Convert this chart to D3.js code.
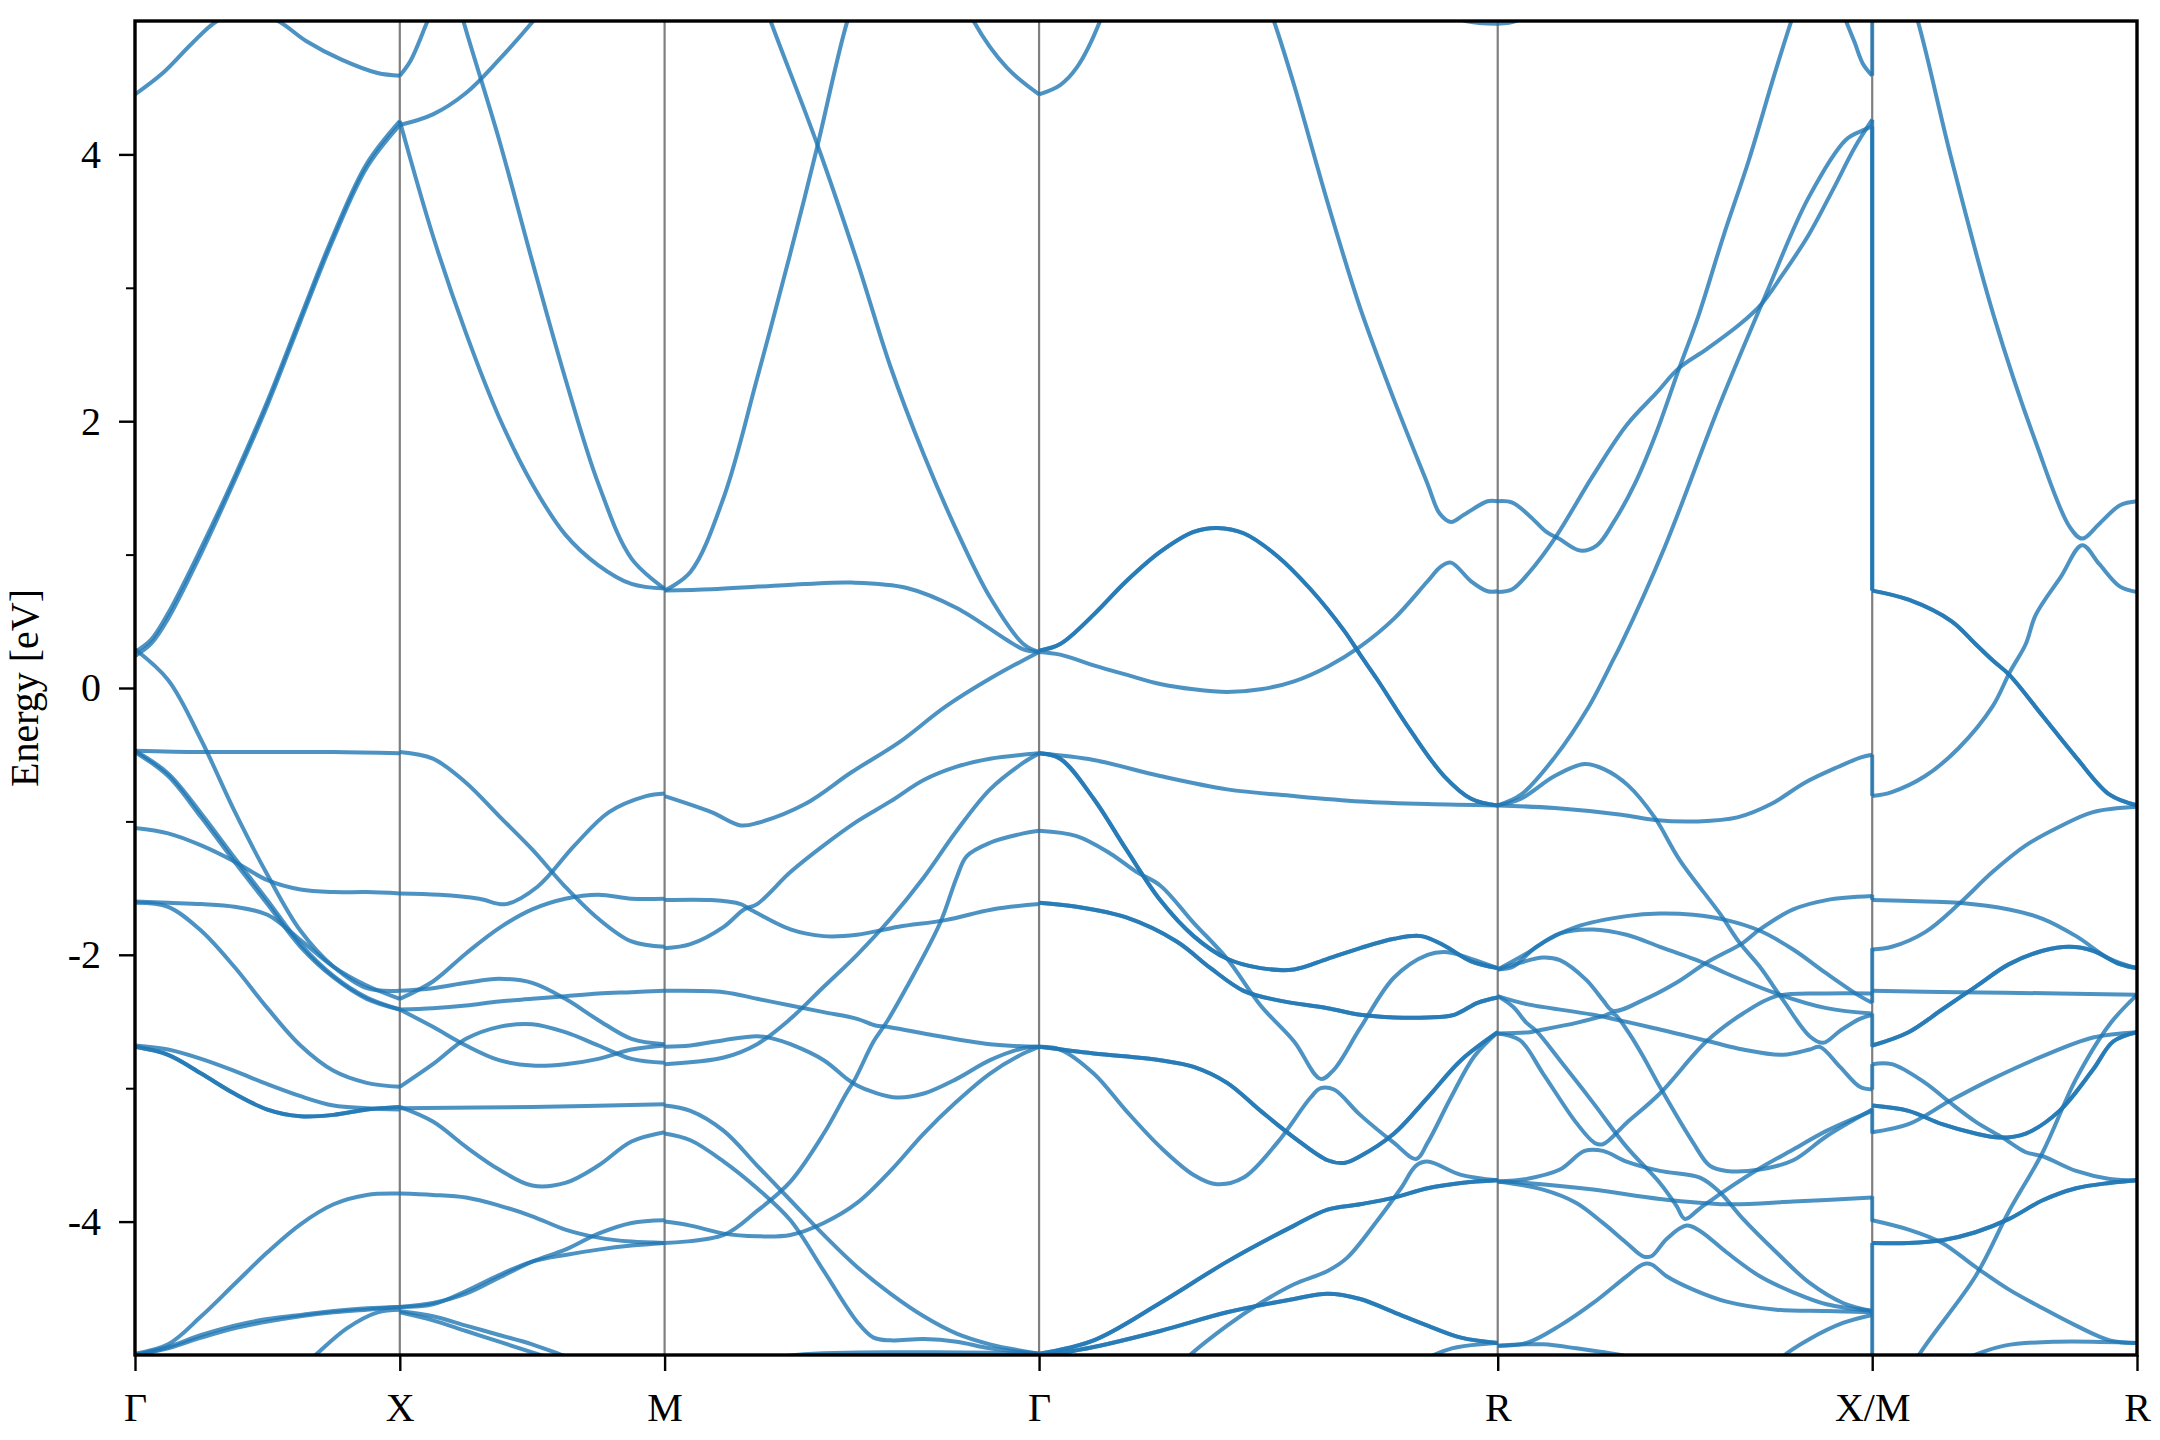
<!DOCTYPE html>
<html><head><meta charset="utf-8">
<script src="https://cdn.jsdelivr.net/npm/d3@7"></script>
<style>body{margin:0;background:#fff}</style>
</head><body>
<svg id="chart" width="2160" height="1440"></svg>
<script>
// ---- path / ticks ----
const kLabels = ["Γ","X","M","Γ","R","X/M","R"];
const segLengths = [1, 1, Math.SQRT2, Math.sqrt(3), Math.SQRT2, 1];
const yMajorTicks = [-4,-2,0,2,4];
const yMinorTicks = [-3,-1,1,3];

// ---- bands per segment: [fraction along segment, energy eV] ----
const gx9 = [[0,-2.69],[.125,-2.75],[.25,-2.89],[.375,-3.04],[.5,-3.16],[.625,-3.21],[.75,-3.20],[.875,-3.16],[1,-3.14]];
const bandsGX = [
  [[0,-0.47],[.25,-0.48],[.5,-0.48],[.75,-0.48],[1,-0.49]],
  [[0,0.29],[.125,0.06],[.25,-0.39],[.375,-0.92],[.5,-1.40],[.625,-1.82],[.75,-2.09],[.875,-2.25],[1,-2.27]],
  [[0,-0.47],[.125,-0.64],[.25,-0.94],[.375,-1.27],[.5,-1.59],[.625,-1.92],[.75,-2.16],[.875,-2.32],[1,-2.41]],
  [[0,-0.48],[.125,-0.66],[.25,-0.97],[.375,-1.30],[.5,-1.62],[.625,-1.94],[.75,-2.17],[.875,-2.33],[1,-2.41]],
  [[0,-1.60],[.125,-1.61],[.25,-1.62],[.375,-1.64],[.5,-1.70],[.625,-1.89],[.75,-2.09],[.875,-2.23],[1,-2.33]],
  [[0,-1.05],[.125,-1.09],[.25,-1.18],[.375,-1.30],[.5,-1.44],[.625,-1.51],[.75,-1.53],[.875,-1.53],[1,-1.54]],
  [[0,-1.61],[.125,-1.64],[.25,-1.82],[.375,-2.09],[.5,-2.40],[.625,-2.68],[.75,-2.87],[.875,-2.96],[1,-2.99]],
  [[0,-2.68],[.125,-2.71],[.25,-2.78],[.375,-2.87],[.5,-2.97],[.625,-3.06],[.75,-3.13],[.875,-3.15],[1,-3.16]],
  gx9, gx9,
  [[0,-4.99],[.125,-4.92],[.25,-4.71],[.375,-4.47],[.5,-4.23],[.625,-4.02],[.75,-3.87],[.875,-3.80],[1,-3.79]],
  [[0,-5.0],[.125,-4.94],[.25,-4.85],[.375,-4.78],[.5,-4.73],[.625,-4.70],[.75,-4.67],[.875,-4.65],[1,-4.64]],
  [[0,-5.0],[.125,-4.95],[.25,-4.87],[.375,-4.80],[.5,-4.75],[.625,-4.71],[.75,-4.68],[.875,-4.66],[1,-4.64]],
  [[.45,-5.4],[.67,-5.02],[.8,-4.80],[.916,-4.68],[1,-4.66]],
  [[0,0.27],[.06,0.36],[.125,0.56],[.25,1.05],[.375,1.58],[.5,2.15],[.625,2.78],[.75,3.40],[.875,3.93],[1,4.25]],
  [[0,0.24],[.06,0.33],[.125,0.52],[.25,1.01],[.375,1.55],[.5,2.12],[.625,2.75],[.75,3.37],[.875,3.90],[1,4.22]],
  [[0,4.45],[.105,4.61],[.214,4.83],[.31,5.0],[.42,5.08],[.54,5.0],[.646,4.85],[.78,4.71],[.916,4.61],[1,4.59]]
];
const bandsXM = [
  [[0,4.25],[.125,3.39],[.25,2.66],[.375,2.03],[.5,1.53],[.625,1.15],[.75,0.92],[.875,0.78],[1,0.745]],
  [[0,4.22],[.125,4.30],[.25,4.46],[.375,4.71],[.5,4.99],[.625,5.3]],
  [[.2,5.3],[.24,5.0],[.375,4.11],[.5,3.20],[.625,2.32],[.75,1.53],[.875,0.97],[1,0.745]],
  [[0,4.59],[.04,4.7],[.105,5.0],[.15,5.2]],
  [[0,-0.48],[.125,-0.53],[.25,-0.71],[.375,-0.96],[.5,-1.21],[.625,-1.49],[.75,-1.73],[.875,-1.90],[1,-1.94]],
  [[0,-1.54],[.15,-1.55],[.3,-1.58],[.4,-1.62],[.52,-1.49],[.66,-1.18],[.79,-0.93],[.93,-0.81],[1,-0.79]],
  [[0,-2.27],[.125,-2.25],[.25,-2.21],[.375,-2.18],[.5,-2.21],[.625,-2.33],[.75,-2.49],[.875,-2.63],[1,-2.67]],
  [[0,-2.33],[.125,-2.20],[.25,-1.99],[.375,-1.80],[.5,-1.66],[.625,-1.58],[.75,-1.55],[.875,-1.58],[1,-1.58]],
  [[0,-2.41],[.125,-2.40],[.25,-2.38],[.375,-2.35],[.5,-2.33],[.625,-2.31],[.75,-2.29],[.875,-2.28],[1,-2.27]],
  [[0,-2.41],[.125,-2.54],[.25,-2.68],[.375,-2.79],[.5,-2.83],[.625,-2.82],[.75,-2.78],[.875,-2.71],[1,-2.68]],
  [[0,-2.99],[.125,-2.82],[.25,-2.63],[.375,-2.54],[.5,-2.52],[.625,-2.58],[.75,-2.68],[.875,-2.78],[1,-2.81]],
  [[0,-3.15],[.5,-3.14],[1,-3.12]],
  [[0,-3.14],[.125,-3.25],[.25,-3.44],[.375,-3.61],[.5,-3.73],[.625,-3.71],[.75,-3.58],[.875,-3.40],[1,-3.33]],
  [[0,-3.79],[.125,-3.80],[.25,-3.82],[.375,-3.88],[.5,-3.96],[.625,-4.06],[.75,-4.12],[.875,-4.15],[1,-4.16]],
  [[0,-4.64],[.125,-4.61],[.25,-4.54],[.375,-4.42],[.5,-4.30],[.625,-4.21],[.75,-4.09],[.875,-4.01],[1,-3.99]],
  [[0,-4.64],[.125,-4.62],[.25,-4.52],[.375,-4.40],[.5,-4.30],[.625,-4.25],[.75,-4.21],[.875,-4.18],[1,-4.16]],
  [[0,-4.67],[.125,-4.71],[.25,-4.78],[.375,-4.85],[.5,-4.92],[.625,-5.01],[.75,-5.1],[1,-5.2]],
  [[0,-4.68],[.125,-4.74],[.25,-4.82],[.375,-4.90],[.5,-4.98],[.625,-5.06],[1,-5.3]]
];
const bandsMG = [
  [[0,-0.81],[.125,-0.93],[.203,-1.03],[.25,-1.01],[.375,-0.87],[.5,-0.63],[.625,-0.41],[.75,-0.14],[.875,0.08],[1,0.27]],
  [[0,0.73],[.125,0.74],[.25,0.76],[.375,0.78],[.5,0.79],[.647,0.75],[.78,0.60],[.914,0.36],[.958,0.29],[1,0.27]],
  [[0,0.73],[.069,0.87],[.158,1.43],[.247,2.32],[.336,3.26],[.407,4.05],[.487,4.99],[.55,5.5]],
  [[.22,5.5],[.283,5.0],[.407,4.08],[.514,3.2],[.603,2.41],[.692,1.75],[.78,1.18],[.869,0.68],[.958,0.33],[1,0.27]],
  [[.78,5.3],[.825,5.0],[.914,4.65],[1,4.45]],
  [[0,-1.59],[.125,-1.59],[.203,-1.62],[.229,-1.66],[.336,-1.81],[.425,-1.86],[.514,-1.85],[.625,-1.79],[.75,-1.74],[.875,-1.66],[1,-1.62]],
  [[0,-1.95],[.069,-1.92],[.158,-1.79],[.212,-1.66],[.247,-1.62],[.336,-1.38],[.425,-1.18],[.514,-1.00],[.603,-0.85],[.692,-0.69],[.78,-0.59],[.869,-0.53],[1,-0.49]],
  [[0,-2.27],[.158,-2.28],[.247,-2.33],[.336,-2.38],[.425,-2.43],[.514,-2.48],[.563,-2.53],[.594,-2.54],[.692,-2.59],[.869,-2.67],[1,-2.69]],
  [[0,-2.69],[.069,-2.68],[.158,-2.64],[.247,-2.61],[.292,-2.63],[.336,-2.67],[.425,-2.79],[.487,-2.93],[.514,-2.98],[.558,-3.03],[.62,-3.07],[.692,-3.04],[.78,-2.93],[.869,-2.79],[.958,-2.70],[1,-2.69]],
  [[0,-2.82],[.158,-2.77],[.247,-2.67],[.336,-2.48],[.425,-2.24],[.514,-2.00],[.603,-1.73],[.692,-1.42],[.78,-1.07],[.869,-0.76],[.958,-0.56],[1,-0.49]],
  [[0,-4.16],[.158,-4.10],[.247,-3.92],[.336,-3.70],[.425,-3.34],[.487,-3.03],[.509,-2.93],[.558,-2.65],[.594,-2.50],[.647,-2.24],[.736,-1.76],[.78,-1.42],[.807,-1.26],[.869,-1.16],[.958,-1.09],[1,-1.07]],
  [[0,-4.0],[.069,-4.03],[.158,-4.09],[.247,-4.11],[.336,-4.10],[.425,-4.01],[.514,-3.86],[.603,-3.62],[.692,-3.34],[.78,-3.10],[.869,-2.89],[.958,-2.74],[1,-2.69]],
  [[0,-3.13],[.069,-3.17],[.158,-3.32],[.247,-3.58],[.336,-3.84],[.425,-4.10],[.514,-4.34],[.603,-4.54],[.692,-4.71],[.78,-4.84],[.869,-4.92],[1,-4.99]],
  [[0,-3.34],[.069,-3.39],[.158,-3.55],[.247,-3.75],[.336,-3.99],[.425,-4.37],[.514,-4.75],[.558,-4.87],[.603,-4.89],[.692,-4.88],[.78,-4.90],[.869,-4.95],[1,-4.99]],
  [[0,-5.15],[.35,-5.0],[.7,-4.98],[1,-4.99]]
];
const gr2 = [[0,0.28],[.046,0.33],[.119,0.55],[.19,0.80],[.264,1.02],[.337,1.17],[.388,1.20],[.446,1.16],[.519,0.99],[.592,0.74],[.665,0.43],[.70,0.25],[.738,0.06],[.81,-0.32],[.883,-0.66],[.942,-0.83],[1,-0.88]];
const gr5 = [[0,-0.49],[.046,-0.53],[.119,-0.83],[.19,-1.21],[.264,-1.59],[.337,-1.86],[.41,-2.03],[.483,-2.10],[.556,-2.11],[.629,-2.03],[.70,-1.95],[.774,-1.88],[.833,-1.86],[.883,-1.93],[.942,-2.05],[1,-2.10]];
const gr7 = [[0,-1.61],[.082,-1.64],[.19,-1.72],[.30,-1.90],[.374,-2.10],[.446,-2.27],[.519,-2.34],[.629,-2.40],[.70,-2.45],[.774,-2.47],[.847,-2.47],[.905,-2.45],[.956,-2.36],[1,-2.32]];
const gr8 = [[0,-2.69],[.119,-2.74],[.264,-2.79],[.337,-2.84],[.41,-2.96],[.483,-3.17],[.556,-3.37],[.629,-3.54],[.665,-3.56],[.70,-3.51],[.774,-3.34],[.847,-3.07],[.92,-2.79],[1,-2.58]];
const gr11 = [[0,-4.99],[.119,-4.89],[.264,-4.61],[.41,-4.30],[.556,-4.03],[.629,-3.91],[.70,-3.87],[.774,-3.82],[.847,-3.75],[.92,-3.71],[1,-3.69]];
const gr12 = [[0,-5.01],[.119,-4.94],[.264,-4.82],[.41,-4.68],[.556,-4.58],[.629,-4.54],[.70,-4.58],[.774,-4.68],[.847,-4.78],[.92,-4.87],[1,-4.91]];
const bandsGR = [
  [[0,0.27],[.046,0.25],[.119,0.17],[.19,0.10],[.264,0.03],[.337,-0.01],[.41,-0.03],[.483,-0.01],[.556,0.05],[.629,0.16],[.70,0.31],[.774,0.52],[.847,0.80],[.876,0.91],[.898,0.94],[.942,0.80],[.978,0.725],[1,0.725]],
  gr2, gr2,
  [[0,4.45],[.046,4.52],[.082,4.65],[.133,5.0],[.16,5.3]],
  [[.48,5.3],[.512,5.0],[.556,4.52],[.629,3.64],[.70,2.85],[.774,2.16],[.847,1.53],[.873,1.31],[.898,1.245],[.927,1.30],[.978,1.40],[1,1.40]],
  [[.85,5.1],[.93,5.0],[1,4.98]],
  [[0,-0.49],[.119,-0.54],[.264,-0.66],[.41,-0.76],[.556,-0.81],[.70,-0.85],[.847,-0.87],[1,-0.88]],
  gr5, gr5,
  [[0,-1.07],[.082,-1.11],[.155,-1.24],[.213,-1.38],[.264,-1.48],[.337,-1.76],[.41,-2.03],[.483,-2.38],[.556,-2.65],[.614,-2.93],[.643,-2.86],[.70,-2.55],[.774,-2.17],[.847,-2.00],[.891,-1.98],[.942,-2.03],[1,-2.10]],
  gr7, gr7, gr8, gr8,
  [[0,-2.69],[.046,-2.71],[.119,-2.89],[.19,-3.17],[.264,-3.44],[.337,-3.65],[.388,-3.72],[.446,-3.67],[.519,-3.41],[.592,-3.07],[.614,-3.00],[.643,-3.01],[.70,-3.20],[.774,-3.41],[.822,-3.53],[.847,-3.41],[.898,-3.07],[.949,-2.76],[1,-2.58]],
  [[.25,-5.3],[.323,-5.02],[.41,-4.78],[.483,-4.61],[.556,-4.47],[.629,-4.37],[.672,-4.27],[.738,-3.99],[.789,-3.75],[.822,-3.58],[.847,-3.55],[.92,-3.65],[1,-3.69]],
  gr11, gr11, gr12, gr12,
  [[.8,-5.1],[.9,-4.95],[1,-4.91]]
];
const bandsRX = [
  [[0,1.40],[.039,1.39],[.085,1.29],[.13,1.17],[.163,1.12],[.22,1.03],[.265,1.07],[.31,1.245],[.366,1.53],[.423,1.91],[.485,2.40],[.536,2.79],[.603,3.39],[.671,3.96],[.738,4.59],[.784,5.0],[.82,5.3]],
  [[0,0.72],[.039,0.74],[.085,0.87],[.152,1.12],[.254,1.59],[.344,1.97],[.423,2.21],[.485,2.40],[.558,2.54],[.648,2.73],[.705,2.88],[.761,3.10],[.829,3.39],[.896,3.74],[.953,4.05],[1,4.26]],
  [[0,-0.88],[.062,-0.80],[.152,-0.52],[.241,-0.15],[.31,0.22],[.33,0.33],[.445,1.05],[.592,2.12],[.716,2.95],[.829,3.67],[.93,4.11],[.975,4.18],[1,4.21]],
  [[.93,5.0],[.953,4.84],[.975,4.68],[1,4.59]],
  [[0,4.98],[.05,5.0],[.1,5.1]],
  [[0,-0.88],[.152,-0.90],[.33,-0.95],[.42,-0.99],[.535,-1.00],[.64,-0.97],[.73,-0.87],[.82,-0.71],[.91,-0.59],[.97,-0.52],[1,-0.50]],
  [[0,-0.88],[.062,-0.83],[.152,-0.66],[.232,-0.57],[.285,-0.61],[.348,-0.73],[.419,-0.97],[.486,-1.29],[.593,-1.69],[.646,-1.91],[.70,-2.09],[.762,-2.34],[.833,-2.61],[.869,-2.66],[.914,-2.57],[.967,-2.48],[1,-2.45]],
  [[0,-2.11],[.041,-2.09],[.103,-1.94],[.21,-1.79],[.344,-1.71],[.433,-1.69],[.522,-1.70],[.611,-1.74],[.70,-1.82],[.789,-1.96],[.878,-2.14],[.967,-2.31],[1,-2.36]],
  [[0,-2.11],[.077,-1.99],[.166,-1.84],[.255,-1.81],[.344,-1.85],[.433,-1.94],[.549,-2.06],[.611,-2.14],[.744,-2.29],[.878,-2.40],[1,-2.44]],
  [[0,-2.11],[.059,-2.06],[.121,-2.02],[.166,-2.04],[.237,-2.19],[.281,-2.34],[.308,-2.42],[.388,-2.34],[.477,-2.21],[.557,-2.06],[.655,-1.91],[.70,-1.81],[.789,-1.66],[.878,-1.59],[1,-1.56]],
  [[0,-2.59],[.085,-2.58],[.103,-2.57],[.21,-2.51],[.281,-2.46],[.308,-2.44],[.344,-2.56],[.388,-2.76],[.433,-2.99],[.522,-3.41],[.566,-3.58],[.611,-3.62],[.70,-3.61],[.789,-3.54],[.878,-3.36],[1,-3.16]],
  [[0,-2.31],[.077,-2.37],[.255,-2.45],[.433,-2.56],[.566,-2.65],[.655,-2.71],[.762,-2.75],[.833,-2.71],[.86,-2.69],[.914,-2.84],[.967,-2.99],[1,-3.01]],
  [[0,-2.31],[.041,-2.39],[.077,-2.51],[.103,-2.57],[.166,-2.79],[.255,-3.11],[.344,-3.44],[.433,-3.71],[.477,-3.88],[.50,-3.98],[.54,-3.90],[.611,-3.76],[.70,-3.60],[.789,-3.46],[.878,-3.32],[1,-3.17]],
  [[0,-2.59],[.059,-2.64],[.121,-2.89],[.21,-3.26],[.259,-3.41],[.281,-3.42],[.344,-3.26],[.433,-3.04],[.557,-2.65],[.655,-2.44],[.744,-2.31],[.878,-2.29],[1,-2.29]],
  [[0,-3.70],[.077,-3.68],[.166,-3.61],[.232,-3.47],[.281,-3.47],[.344,-3.55],[.433,-3.62],[.54,-3.67],[.593,-3.78],[.655,-3.98],[.744,-4.23],[.833,-4.46],[.922,-4.61],[1,-4.67]],
  [[0,-3.70],[.077,-3.71],[.255,-3.76],[.433,-3.83],[.611,-3.87],[.789,-3.85],[1,-3.82]],
  [[0,-3.70],[.121,-3.76],[.21,-3.86],[.281,-4.01],[.344,-4.16],[.388,-4.26],[.41,-4.26],[.451,-4.13],[.504,-4.03],[.54,-4.07],[.611,-4.23],[.70,-4.41],[.789,-4.53],[.878,-4.62],[1,-4.67]],
  [[0,-4.93],[.077,-4.91],[.166,-4.78],[.255,-4.61],[.344,-4.41],[.388,-4.32],[.41,-4.32],[.451,-4.41],[.522,-4.51],[.611,-4.60],[.744,-4.66],[.878,-4.67],[1,-4.68]],
  [[0,-4.93],[.121,-4.92],[.21,-4.95],[.344,-5.01],[.45,-5.1]],
  [[.70,-5.2],[.762,-5.01],[.833,-4.88],[.922,-4.76],[1,-4.70]]
];
const mr2 = [[0,0.73],[.14,0.66],[.30,0.50],[.39,0.33],[.459,0.2],[.517,0.10],[.644,-0.21],[.77,-0.52],[.897,-0.80],[1,-0.88]];
const mr7 = [[0,-2.68],[.137,-2.58],[.264,-2.41],[.39,-2.24],[.517,-2.07],[.644,-1.97],[.745,-1.94],[.834,-1.97],[.935,-2.07],[1,-2.10]];
const mr9 = [[0,-3.13],[.137,-3.17],[.264,-3.27],[.39,-3.34],[.479,-3.37],[.58,-3.34],[.707,-3.17],[.834,-2.86],[.91,-2.65],[1,-2.58]];
const mr12 = [[0,-4.16],[.137,-4.16],[.264,-4.14],[.39,-4.08],[.517,-3.98],[.644,-3.84],[.77,-3.75],[.897,-3.71],[1,-3.69]];
const bandsMR = [
  [[0,-0.81],[.074,-0.78],[.2,-0.66],[.327,-0.45],[.454,-0.14],[.52,0.12],[.58,0.33],[.618,0.55],[.713,0.835],[.793,1.07],[.857,0.93],[.936,0.76],[1,0.72]],
  mr2, mr2,
  [[.12,5.3],[.172,5.0],[.30,3.96],[.459,2.79],[.618,1.84],[.745,1.21],[.793,1.12],[.857,1.23],[.936,1.37],[1,1.40]],
  [[0,-1.59],[.2,-1.60],[.327,-1.61],[.517,-1.66],[.644,-1.73],[.77,-1.86],[.897,-2.03],[1,-2.10]],
  [[0,-1.96],[.074,-1.94],[.2,-1.83],[.327,-1.62],[.454,-1.38],[.58,-1.18],[.707,-1.04],[.834,-0.93],[1,-0.89]],
  [[0,-2.27],[.327,-2.28],[.707,-2.29],[1,-2.30]],
  mr7, mr7,
  [[0,-2.82],[.074,-2.82],[.2,-2.96],[.289,-3.10],[.39,-3.25],[.492,-3.37],[.58,-3.48],[.644,-3.51],[.77,-3.62],[.897,-3.68],[1,-3.69]],
  mr9, mr9,
  [[0,-3.33],[.137,-3.27],[.289,-3.10],[.454,-2.93],[.644,-2.76],[.834,-2.62],[1,-2.58]],
  [[0,-3.99],[.137,-4.06],[.264,-4.16],[.39,-4.34],[.517,-4.51],[.644,-4.65],[.77,-4.78],[.897,-4.89],[1,-4.91]],
  mr12, mr12,
  [[.1,-5.3],[.17,-5.02],[.39,-4.41],[.517,-3.92],[.644,-3.48],[.77,-2.93],[.897,-2.52],[1,-2.30]],
  [[.36,-5.02],[.5,-4.93],[.7,-4.90],[1,-4.91]]
];
// vertical joins drawn at the X|M discontinuity: [energy at X, energy at M]
const jumpsXM = [[4.59,5.2],[4.26,0.73],[4.21,0.73],[-0.50,-0.81],[-1.55,-1.59],[-1.95,-2.36],[-2.44,-2.69],[-2.82,-3.01],[-3.15,-3.34],[-3.81,-4.0],[-4.16,-5.2]];

// ---- drawing ----
const segments = [bandsGX, bandsXM, bandsMG, bandsGR, bandsRX, bandsMR];
const kStart = [0];
segLengths.forEach((l, i) => kStart.push(kStart[i] + l));

const L = 135, R = 2137, T = 21, B = 1355;
const x = d3.scaleLinear().domain([0, kStart[kStart.length - 1]]).range([L, R]);
const y = d3.scaleLinear().domain([-5, 5]).range([B, T]);
const svg = d3.select("#chart");
const font = "'Liberation Serif','Times New Roman',serif";
const fs = 40;

svg.append("defs").append("clipPath").attr("id", "clip")
  .append("rect").attr("x", L).attr("y", T).attr("width", R - L).attr("height", B - T);

// high-symmetry lines
svg.append("g").selectAll("line").data(kStart.slice(1, -1)).join("line")
  .attr("x1", d => x(d)).attr("x2", d => x(d)).attr("y1", T).attr("y2", B)
  .attr("stroke", "#7f7f7f").attr("stroke-width", 2.2);

const plot = svg.append("g").attr("clip-path", "url(#clip)");
const color = "#1f77b4";
const lw = 4;
segments.forEach((bands, si) => {
  const k0 = kStart[si], len = segLengths[si];
  const line = d3.line().x(d => x(k0 + d[0] * len)).y(d => y(d[1])).curve(d3.curveCatmullRom.alpha(0.5));
  plot.append("g").selectAll("path").data(bands).join("path")
    .attr("d", line).attr("fill", "none").attr("stroke", color)
    .attr("stroke-opacity", 0.8).attr("stroke-width", lw);
});
plot.append("g").selectAll("line").data(jumpsXM).join("line")
  .attr("x1", x(kStart[5])).attr("x2", x(kStart[5]))
  .attr("y1", d => y(d[0])).attr("y2", d => y(d[1]))
  .attr("stroke", color).attr("stroke-opacity", 0.8).attr("stroke-width", lw);

// axes
const yAxis = d3.axisLeft(y).tickValues(yMajorTicks).tickSize(16).tickPadding(18).tickFormat(d => String(d));
const yg = svg.append("g").attr("transform", `translate(${L},0)`).call(yAxis);
yg.select(".domain").remove();
yg.selectAll("line").attr("stroke", "#000").attr("stroke-width", 2.4);
yg.selectAll("text").attr("font-family", font).attr("font-size", fs).attr("fill", "#000");
const ym = d3.axisLeft(y).tickValues(yMinorTicks).tickSize(9).tickFormat("");
const ymg = svg.append("g").attr("transform", `translate(${L},0)`).call(ym);
ymg.select(".domain").remove();
ymg.selectAll("line").attr("stroke", "#000").attr("stroke-width", 2);

const xAxis = d3.axisBottom(x).tickValues(kStart).tickSize(16).tickPadding(22).tickFormat((d, i) => kLabels[i]);
const xg = svg.append("g").attr("transform", `translate(0,${B})`).call(xAxis);
xg.select(".domain").remove();
xg.selectAll("line").attr("stroke", "#000").attr("stroke-width", 2.4);
xg.selectAll("text").attr("font-family", font).attr("font-size", fs).attr("fill", "#000");

svg.append("rect").attr("x", L).attr("y", T).attr("width", R - L).attr("height", B - T)
  .attr("fill", "none").attr("stroke", "#000").attr("stroke-width", 3.4);

svg.append("text").attr("transform", `translate(24,${(T + B) / 2}) rotate(-90)`)
  .attr("text-anchor", "middle").attr("dominant-baseline", "central")
  .attr("font-family", font).attr("font-size", fs).text("Energy [eV]");
</script>
</body></html>
